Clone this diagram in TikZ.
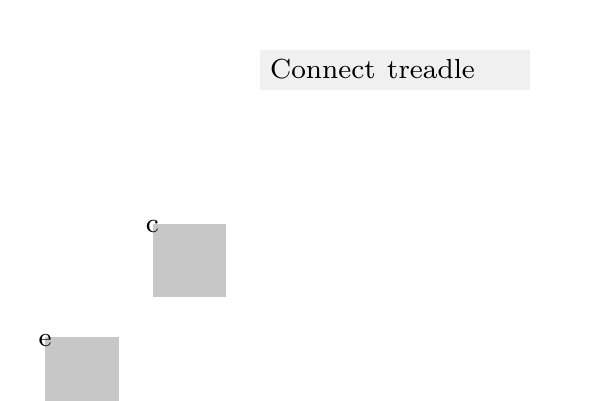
\documentclass[tikz,border=0pt]{standalone}
\usepackage{graphicx}
\newcommand{\bigtxt}[1]{\scalebox{3.44}{\fontsize{8}{9}\selectfont #1}}

\begin{document}
\begin{tikzpicture}[x=1pt, y=-1pt,
    every node/.style={inner sep=0pt},
    part/.style={fill=black!22, minimum size=73.5pt, anchor=north west},
    tag/.style={anchor=center, yshift=-3.6pt}]
  \clip (0,0) rectangle (600,400);
  \node[fill=black!6, anchor=north west, minimum height=40pt, text width=250pt, inner xsep=10pt, text depth=3pt, align=left] (treadle) at (260,50) {\bigtxt{Connect treadle}};

  \node[part] (csq) at (152.3,223.3) {};
  \node[part] (esq) at (45,336.7) {};

  \node[tag] (clbl) at (csq.north west) {\bigtxt{c}};
  \node[tag] (elbl) at (esq.north west) {\bigtxt{e}};
\end{tikzpicture}
\end{document}
